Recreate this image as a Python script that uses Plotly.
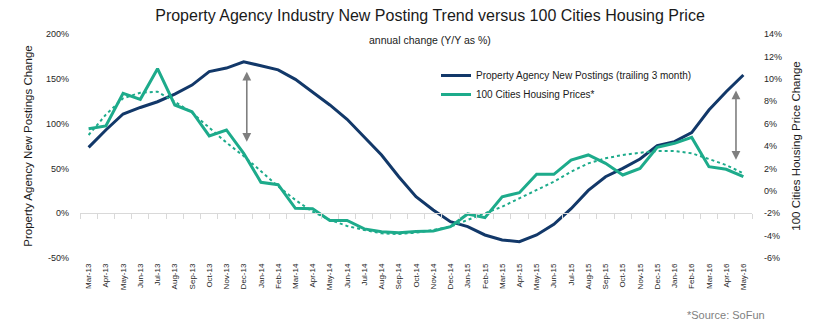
import plotly.graph_objects as go

# Months on the category axis
months = [
    "Mar-13", "Apr-13", "May-13", "Jun-13", "Jul-13", "Aug-13", "Sep-13", "Oct-13", "Nov-13", "Dec-13",
    "Jan-14", "Feb-14", "Mar-14", "Apr-14", "May-14", "Jun-14", "Jul-14", "Aug-14", "Sep-14", "Oct-14",
    "Nov-14", "Dec-14", "Jan-15", "Feb-15", "Mar-15", "Apr-15", "May-15", "Jun-15", "Jul-15", "Aug-15",
    "Sep-15", "Oct-15", "Nov-15", "Dec-15", "Jan-16", "Feb-16", "Mar-16", "Apr-16", "May-16",
]

# Property agency new postings, trailing 3 month, Y/Y % (left axis)
postings = [
    73.5, 92.9, 110.7, 118, 124.4, 133, 143, 158, 162, 169,
    164.6, 160, 149.4, 135.6, 120.8, 104.8, 84.7, 65, 40.7, 18.4,
    3.6, -9.5, -15, -24.3, -29.9, -31.8, -24.3, -12.4, 5, 25.5,
    40.7, 50.1, 60.5, 75.5, 79.8, 90, 115.2, 135.6, 154.2,
]

# 100 cities housing prices, Y/Y % (right axis)
housing = [
    5.54, 5.79, 8.7, 8.17, 10.9, 7.66, 7.06, 4.9, 5.43, 3.35,
    0.76, 0.55, -1.56, -1.6, -2.65, -2.65, -3.4, -3.66, -3.75, -3.63,
    -3.59, -3.2, -2.07, -2.4, -0.53, -0.17, 1.47, 1.47, 2.75, 3.2,
    2.45, 1.41, 2.0, 3.88, 4.24, 4.77, 2.15, 1.92, 1.26,
]

# Trend of the housing price series (right axis)
housing_trend = [
    4.98, 6.8, 8.26, 8.76, 8.85, 7.96, 6.97, 5.6, 4.3, 3.1,
    1.71, 0.4, -0.82, -1.87, -2.6, -3.14, -3.5, -3.8, -3.86, -3.74,
    -3.5, -3.2, -2.6, -2.0, -1.42, -0.67, 0.07, 0.81, 1.71, 2.45,
    2.9, 3.2, 3.4, 3.55, 3.55, 3.35, 2.84, 2.3, 1.56,
]

# Double-headed gap arrows: (category position, top, bottom) on the left axis
gap_arrows = [(9.18, 158, 78), (37.57, 137, 58)]

left_ticks = [-50, 0, 50, 100, 150, 200]
right_ticks = [-6, -4, -2, 0, 2, 4, 6, 8, 10, 12, 14]
left_labels = [f"{v}%" for v in left_ticks]
right_labels = [f"{v}%" for v in right_ticks]

NAVY = "#123869"
GREEN = "#1dab8b"
FONT = "Liberation Sans Narrow, Arial Narrow, Liberation Sans, Arial, sans-serif"
TXT = "#1a1a1a"

fig = go.Figure()

fig.add_trace(go.Scatter(
    x=months, y=postings, mode="lines", name="Property Agency New Postings (trailing 3 month)",
    line=dict(color=NAVY, width=3), xaxis="x", yaxis="y",
))
fig.add_trace(go.Scatter(
    x=months, y=housing, mode="lines", name="100 Cities Housing Prices*",
    line=dict(color=GREEN, width=3), xaxis="x", yaxis="y2",
))
fig.add_trace(go.Scatter(
    x=months, y=housing_trend, mode="lines", showlegend=False,
    line=dict(color=GREEN, width=2, dash="dot"), xaxis="x", yaxis="y2",
))

# Boundary positions for the zero-line tick marks
boundaries = [i - 0.5 for i in range(len(months) + 1)]
fig.add_trace(go.Scatter(
    x=[boundaries[0], boundaries[-1]], y=[None, None], mode="lines",
    showlegend=False, hoverinfo="skip", xaxis="x2", yaxis="y",
))

for xpos, top, bottom in gap_arrows:
    fig.add_annotation(
        x=xpos, y=top, ax=xpos, ay=bottom, xref="x", yref="y", axref="x", ayref="y",
        text="", showarrow=True, arrowhead=2, arrowside="end+start",
        arrowsize=1.1, arrowwidth=1.6, arrowcolor="#7f7f7f",
    )

W, H = 829, 324
L, R, T, B = 80, 77, 34, 66
PW, PH = W - L - R, H - T - B
# left-axis zero level as a fraction of the plot height
zero_pos = (0 - left_ticks[0]) / (left_ticks[-1] - left_ticks[0])

fig.update_layout(
    width=W, height=H, autosize=False,
    margin=dict(l=L, r=R, t=T, b=B, pad=0),
    paper_bgcolor="white", plot_bgcolor="white",
    font=dict(family=FONT, size=9, color=TXT),
    title=dict(
        text="Property Agency Industry New Posting Trend versus 100 Cities Housing Price",
        x=430 / W, xanchor="center", y=1 - 15 / H, yanchor="middle",
        font=dict(family=FONT, size=16, color=TXT),
    ),
    showlegend=True,
    legend=dict(
        x=(436 - L) / PW, y=1 - (61 - T) / PH, xanchor="left", yanchor="top",
        bgcolor="rgba(0,0,0,0)", font=dict(family=FONT, size=10, color=TXT),
        itemwidth=30,
    ),
    xaxis=dict(
        type="category", categoryorder="array", categoryarray=months,
        range=[-0.5, len(months) - 0.5],
        showline=False, showgrid=False, zeroline=False, ticks="",
        tickangle=-90, tickfont=dict(family=FONT, size=8, color="#262626"),
        ticklabelstandoff=3,
    ),
    xaxis2=dict(
        overlaying="x", anchor="free", position=zero_pos, type="linear",
        range=[-0.5, len(months) - 0.5], tickmode="array", tickvals=boundaries,
        showticklabels=False, ticks="outside", ticklen=5, tickcolor="#d9d9d9", tickwidth=1,
        showline=True, linecolor="#d9d9d9", linewidth=1, showgrid=False, zeroline=False,
    ),
    yaxis=dict(
        range=[left_ticks[0], left_ticks[-1]], tickmode="array", tickvals=left_ticks,
        ticktext=left_labels, showgrid=False, zeroline=False, showline=False, ticks="",
        ticklabelstandoff=10,
        title=dict(text="Property Agency New Postings Change", standoff=10,
                   font=dict(family=FONT, size=11.5, color=TXT)),
        tickfont=dict(family=FONT, size=9, color="#262626"),
    ),
    yaxis2=dict(
        overlaying="y", side="right", anchor="x",
        range=[right_ticks[0], right_ticks[-1]], tickmode="array", tickvals=right_ticks,
        ticktext=right_labels, showgrid=False, zeroline=False, showline=False, ticks="",
        ticklabelstandoff=11,
        title=dict(text="100 Cities Housing Price Change", standoff=10,
                   font=dict(family=FONT, size=11.5, color=TXT)),
        tickfont=dict(family=FONT, size=9, color="#262626"),
    ),
)

fig.add_annotation(
    text="annual change (Y/Y as %)", xref="paper", yref="paper",
    x=(430 - L) / PW, y=1 + (T - 40) / PH, xanchor="center", yanchor="middle",
    showarrow=False, font=dict(family=FONT, size=10.5, color=TXT),
)
fig.add_annotation(
    text="*Source: SoFun", xref="paper", yref="paper",
    x=(767 - L) / PW, y=-(315 - (H - B)) / PH, xanchor="right", yanchor="middle",
    showarrow=False, font=dict(family=FONT, size=11, color="#7f7f7f"),
)

fig.write_html("out.html")
